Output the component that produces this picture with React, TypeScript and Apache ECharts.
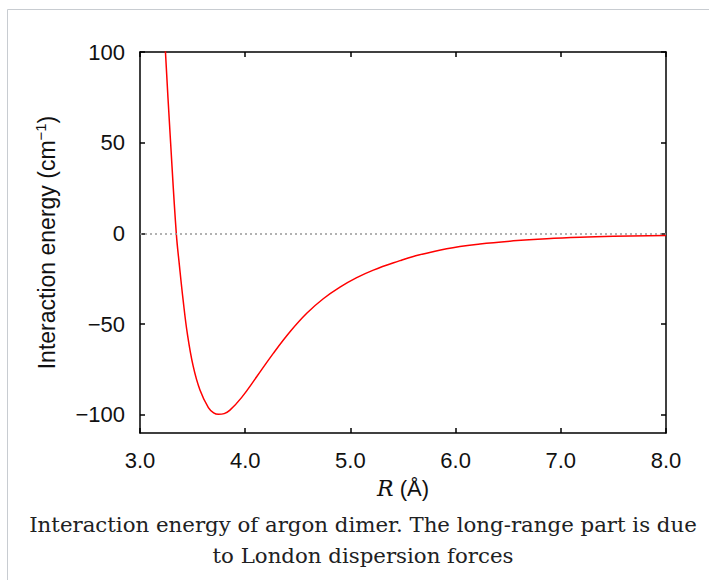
import React, { useEffect, useRef } from "react";
import * as echarts from "echarts";

const rValues = [3.222, 3.242, 3.291, 3.345, 3.376, 3.41, 3.45, 3.505, 3.57, 3.65, 3.7, 3.745, 3.8, 3.855, 3.965, 4.109, 4.267, 4.426, 4.585, 4.742, 4.901, 5.06, 5.218, 5.471, 5.598, 5.915, 6.232, 6.549, 6.866, 7.183, 7.5, 8.0];
const energyValues = [125, 100, 50, 0, -18.4, -36.8, -55.2, -73.0, -86.3, -96.0, -98.9, -99.7, -99.3, -97.4, -90.5, -79.0, -66.1, -54.2, -44.0, -36.0, -29.6, -24.4, -20.2, -15.0, -12.7, -8.4, -5.8, -4.1, -2.9, -2.1, -1.6, -1.1];
const xTicks = [3, 4, 5, 6, 7, 8];
const yTicks = [-100, -50, 0, 50, 100];
const captionLines = [
  "Interaction energy of argon dimer. The long-range part is due",
  "to London dispersion forces",
];

const SANS = "'Liberation Sans', Arial, Helvetica, sans-serif";
const SERIF = "'DejaVu Serif', serif";
const FS = 22;

export default function App() {
  const ref = useRef<HTMLDivElement>(null);
  useEffect(() => {
    if (!ref.current) return;
    const chart = echarts.init(ref.current, null, { renderer: "svg" });
    const data = rValues.map((r, i) => [r, energyValues[i]]);
    const lineStyle = { color: "#000", width: 1.5 };
    chart.setOption({
      animation: false,
      backgroundColor: "#fff",
      grid: { left: 140, top: 52, width: 526, height: 381 },
      xAxis: [
        {
          type: "value",
          position: "bottom",
          min: 3,
          max: 8,
          interval: 1,
          axisLine: { show: true, onZero: false, lineStyle },
          axisTick: { show: true, inside: true, length: 5, lineStyle },
          splitLine: { show: false },
          axisLabel: {
            margin: 16,
            fontSize: FS,
            fontFamily: SANS,
            color: "#111",
            formatter: (v: number) => (xTicks.includes(v) ? v.toFixed(1) : ""),
          },
          name: "{i|R} (Å)",
          nameLocation: "middle",
          nameGap: 44,
          nameTextStyle: {
            fontSize: FS,
            fontFamily: SANS,
            color: "#111",
            rich: {
              i: { fontSize: FS, fontFamily: SERIF, fontStyle: "italic", color: "#111" },
            },
          },
        },
        {
          type: "value",
          position: "top",
          min: 3,
          max: 8,
          interval: 1,
          axisLine: { show: true, onZero: false, lineStyle },
          axisTick: { show: true, inside: true, length: 5, lineStyle },
          splitLine: { show: false },
          axisLabel: { show: false },
        },
      ],
      yAxis: [
        {
          type: "value",
          position: "left",
          min: -110,
          max: 100,
          interval: 10,
          axisLine: { show: true, onZero: false, lineStyle },
          axisTick: { show: true, inside: true, length: 5, lineStyle, customValues: yTicks },
          splitLine: { show: false },
          axisLabel: {
            margin: 15,
            fontSize: FS,
            fontFamily: SANS,
            color: "#111",
            customValues: yTicks,
            formatter: (v: number) => (v < 0 ? "\u2212" + Math.abs(v) : String(v)),
          },
          name: "{a|Interaction energy (cm}{s|\u22121}{a|)}",
          nameLocation: "middle",
          nameGap: 80,
          nameTextStyle: {
            fontSize: 23,
            fontFamily: SANS,
            color: "#111",
            rich: {
              a: { fontSize: 23, fontFamily: SANS, color: "#111", lineHeight: 27 },
              s: { fontSize: 15, fontFamily: SANS, color: "#111", verticalAlign: "top", lineHeight: 27, padding: [0, 0, 10, 0] },
            },
          },
        },
        {
          type: "value",
          position: "right",
          min: -110,
          max: 100,
          interval: 10,
          axisLine: { show: true, onZero: false, lineStyle },
          axisTick: { show: true, inside: true, length: 5, lineStyle, customValues: yTicks },
          splitLine: { show: false },
          axisLabel: { show: false },
        },
      ],
      series: [
        {
          type: "line",
          data,
          showSymbol: false,
          smooth: 0.4,
          clip: true,
          lineStyle: { color: "#ff0000", width: 1.5 },
          markLine: {
            silent: true,
            symbol: "none",
            label: { show: false },
            lineStyle: { color: "#999", width: 1.5, type: [2, 3] },
            data: [{ yAxis: 0 }],
          },
          z: 3,
        },
      ],
      graphic: [
        {
          type: "rect",
          shape: { x: 7.5, y: 9.5, width: 720, height: 600 },
          style: { fill: "none", stroke: "#c8ccd1", lineWidth: 1 },
          silent: true,
        },
        {
          type: "text",
          x: 363,
          y: 524,
          style: {
            text: captionLines[0],
            fontSize: 21.3,
            fontFamily: SERIF,
            fill: "#202122",
            align: "center",
            verticalAlign: "middle",
          },
        },
        {
          type: "text",
          x: 363,
          y: 555,
          style: {
            text: captionLines[1],
            fontSize: 21.3,
            fontFamily: SERIF,
            fill: "#202122",
            align: "center",
            verticalAlign: "middle",
          },
        },
      ],
    });
    return () => chart.dispose();
  }, []);
  return (
    <div
      ref={ref}
      style={{ position: "absolute", left: 0, top: 0, width: 709, height: 580 }}
    />
  );
}
